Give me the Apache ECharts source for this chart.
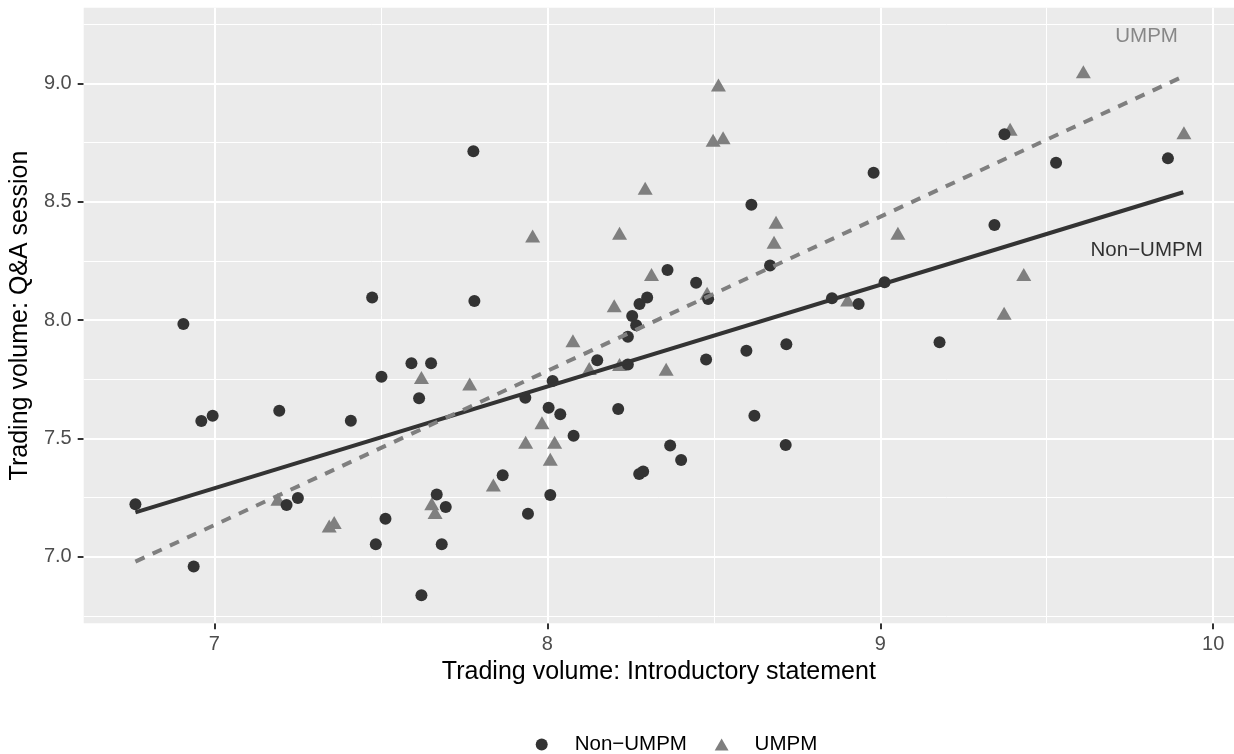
<!DOCTYPE html>
<html>
<head>
<meta charset="utf-8">
<script src="https://cdn.jsdelivr.net/npm/echarts@6/dist/echarts.min.js"></script>
<style>
html,body{margin:0;padding:0;background:#fff;}
#chart{width:1234px;height:754px;}
</style>
</head>
<body>
<div id="chart"></div>
<script>
// ---- data ----
const nonUmpmX = [7.778,7.474,7.781,6.907,7.592,7.651,7.502,7.615,6.961,6.995,7.195,7.410,6.763,7.217,7.251,6.938,7.514,7.485,7.668,7.695,7.683,7.622,7.866,7.942,8.009,7.934,8.004,8.039,8.079,8.016,8.150,8.242,8.213,8.369,8.402,8.276,8.288,8.477,8.598,8.718,8.622,8.716,8.255,8.267,8.242,8.277,8.300,8.483,8.935,8.855,8.980,8.613,8.361,8.447,8.669,9.013,9.373,9.528,9.864,9.343,9.178];
const nonUmpmY = [8.713,8.095,8.081,7.984,7.818,7.818,7.761,7.670,7.574,7.596,7.617,7.575,7.222,7.219,7.249,6.959,7.161,7.053,7.264,7.211,7.053,6.838,7.345,7.182,7.261,7.672,7.630,7.602,7.512,7.743,7.830,7.813,7.625,7.470,7.409,7.350,7.361,7.834,7.871,7.898,7.596,7.473,8.017,7.978,7.930,8.068,8.095,8.089,8.068,8.092,8.622,8.487,8.212,8.158,8.231,8.160,8.785,8.665,8.683,8.402,7.906];
const umpmX = [7.622,7.767,7.191,7.345,7.360,7.653,7.663,7.838,8.201,8.077,8.126,8.217,7.984,7.935,8.022,8.009,8.357,8.902,8.480,8.514,8.498,8.528,8.294,7.956,8.217,8.313,8.687,8.681,9.610,9.390,9.912,9.053,9.431,9.372];
const umpmY = [7.758,7.730,7.243,7.130,7.145,7.224,7.188,7.304,8.061,7.913,7.796,7.813,7.567,7.484,7.484,7.412,7.792,8.085,8.113,8.993,8.760,8.770,8.557,8.355,8.367,8.193,8.413,8.329,9.049,8.806,8.791,8.367,8.193,8.029];
// fitted regression lines (end points)
const fitNonX = [6.763, 9.910];
const fitNonY = [7.188, 8.540];
const fitUmpmX = [6.763, 9.913];
const fitUmpmY = [6.980, 9.031];
// in-plot labels
const labelTexts = ['UMPM', 'Non\u2212UMPM'];
const labelX = [9.80, 9.80];
const labelY = [9.197, 8.296];
// ticks
const xTicks = [7, 8, 9, 10];
const xMinor = [7.5, 8.5, 9.5];
const yTicks = [7.0, 7.5, 8.0, 8.5, 9.0];
const yMinor = [6.75, 7.25, 7.75, 8.25, 8.75, 9.25];
const seriesNames = ['Non\u2212UMPM', 'UMPM'];
const xTitle = 'Trading volume: Introductory statement';
const yTitle = 'Trading volume: Q&A session';

const FONT = "'Liberation Sans', Arial, Helvetica, sans-serif";
const zip = (a, b) => a.map((v, i) => [v, b[i]]);
const triPath = 'path://M0,13L7.5,0L15,13Z';

const gridLines = [].concat(
  xMinor.map(v => ({xAxis: v, lineStyle: {width: 1}})),
  yMinor.map(v => ({yAxis: v, lineStyle: {width: 1}})),
  xTicks.map(v => ({xAxis: v, lineStyle: {width: 2}})),
  yTicks.map(v => ({yAxis: v, lineStyle: {width: 2}}))
);

const legendCommon = {
  top: 729, itemWidth: 56, itemHeight: 12, selectedMode: false,
  textStyle: {fontSize: 20.5, color: '#000', fontFamily: FONT}
};

const chart = echarts.init(document.getElementById('chart'), null, {renderer: 'canvas'});
chart.setOption({
  animation: false,
  backgroundColor: '#ffffff',
  textStyle: {fontFamily: FONT},
  grid: {left: 83, right: 0, top: 7.7, bottom: 130.7, show: true, backgroundColor: '#EBEBEB', borderWidth: 0, containLabel: false},
  legend: [
    Object.assign({left: 530.7, data: [{name: seriesNames[0], icon: 'circle'}]}, legendCommon),
    Object.assign({left: 709.7, data: [{name: seriesNames[1], icon: triPath}]}, legendCommon)
  ],
  xAxis: {
    type: 'value', min: 6.6077, max: 10.0624,
    name: xTitle, nameLocation: 'middle', nameGap: 35,
    nameTextStyle: {fontSize: 25, color: '#000', fontFamily: FONT},
    axisLine: {show: false},
    axisTick: {show: true, customValues: xTicks, length: 6, lineStyle: {color: '#333333', width: 2}},
    axisLabel: {customValues: xTicks, margin: 11, fontSize: 20, color: '#4D4D4D', fontFamily: FONT, formatter: v => String(v)},
    splitLine: {show: false}
  },
  yAxis: {
    type: 'value', min: 6.7196, max: 9.3193,
    name: yTitle, nameLocation: 'middle', nameGap: 48.6, nameRotate: 90,
    nameTextStyle: {fontSize: 25, color: '#000', fontFamily: FONT},
    axisLine: {show: false},
    axisTick: {show: true, customValues: yTicks, length: 6, lineStyle: {color: '#333333', width: 2}},
    axisLabel: {customValues: yTicks, margin: 12, fontSize: 20, color: '#4D4D4D', fontFamily: FONT, formatter: v => v.toFixed(1)},
    splitLine: {show: false}
  },
  series: [
    {
      type: 'line', name: '_grid', data: [], z: 1, silent: true,
      markLine: {silent: true, z: 1, symbol: ['none', 'none'], label: {show: false}, animation: false,
        lineStyle: {color: '#FFFFFF', type: 'solid'}, emphasis: {disabled: true}, data: gridLines}
    },
    {
      type: 'scatter', name: seriesNames[1], data: zip(umpmX, umpmY), z: 2,
      symbol: 'triangle', symbolSize: [15, 13], itemStyle: {color: '#7F7F7F', opacity: 1}
    },
    {
      type: 'scatter', name: seriesNames[0], data: zip(nonUmpmX, nonUmpmY), z: 3,
      symbol: 'circle', symbolSize: 12, itemStyle: {color: '#333333', opacity: 1}
    },
    {
      type: 'line', name: '_fitNon', data: zip(fitNonX, fitNonY), z: 4, symbol: 'none', silent: true,
      lineStyle: {color: '#333333', width: 4, type: 'solid'}
    },
    {
      type: 'line', name: '_fitUmpm', data: zip(fitUmpmX, fitUmpmY), z: 4, symbol: 'none', silent: true,
      lineStyle: {color: '#7F7F7F', width: 4, type: [10, 9]}
    },
    {
      type: 'scatter', name: '_labels', z: 5, silent: true, symbolSize: 0,
      data: labelTexts.map((t, i) => ({
        name: t, value: [labelX[i], labelY[i]],
        label: {color: i === 0 ? '#6E6E6E' : '#000000'}
      })),
      label: {show: true, position: 'inside', formatter: p => p.name, fontSize: 20.5, fontFamily: FONT}
    }
  ]
});
</script>
</body>
</html>
